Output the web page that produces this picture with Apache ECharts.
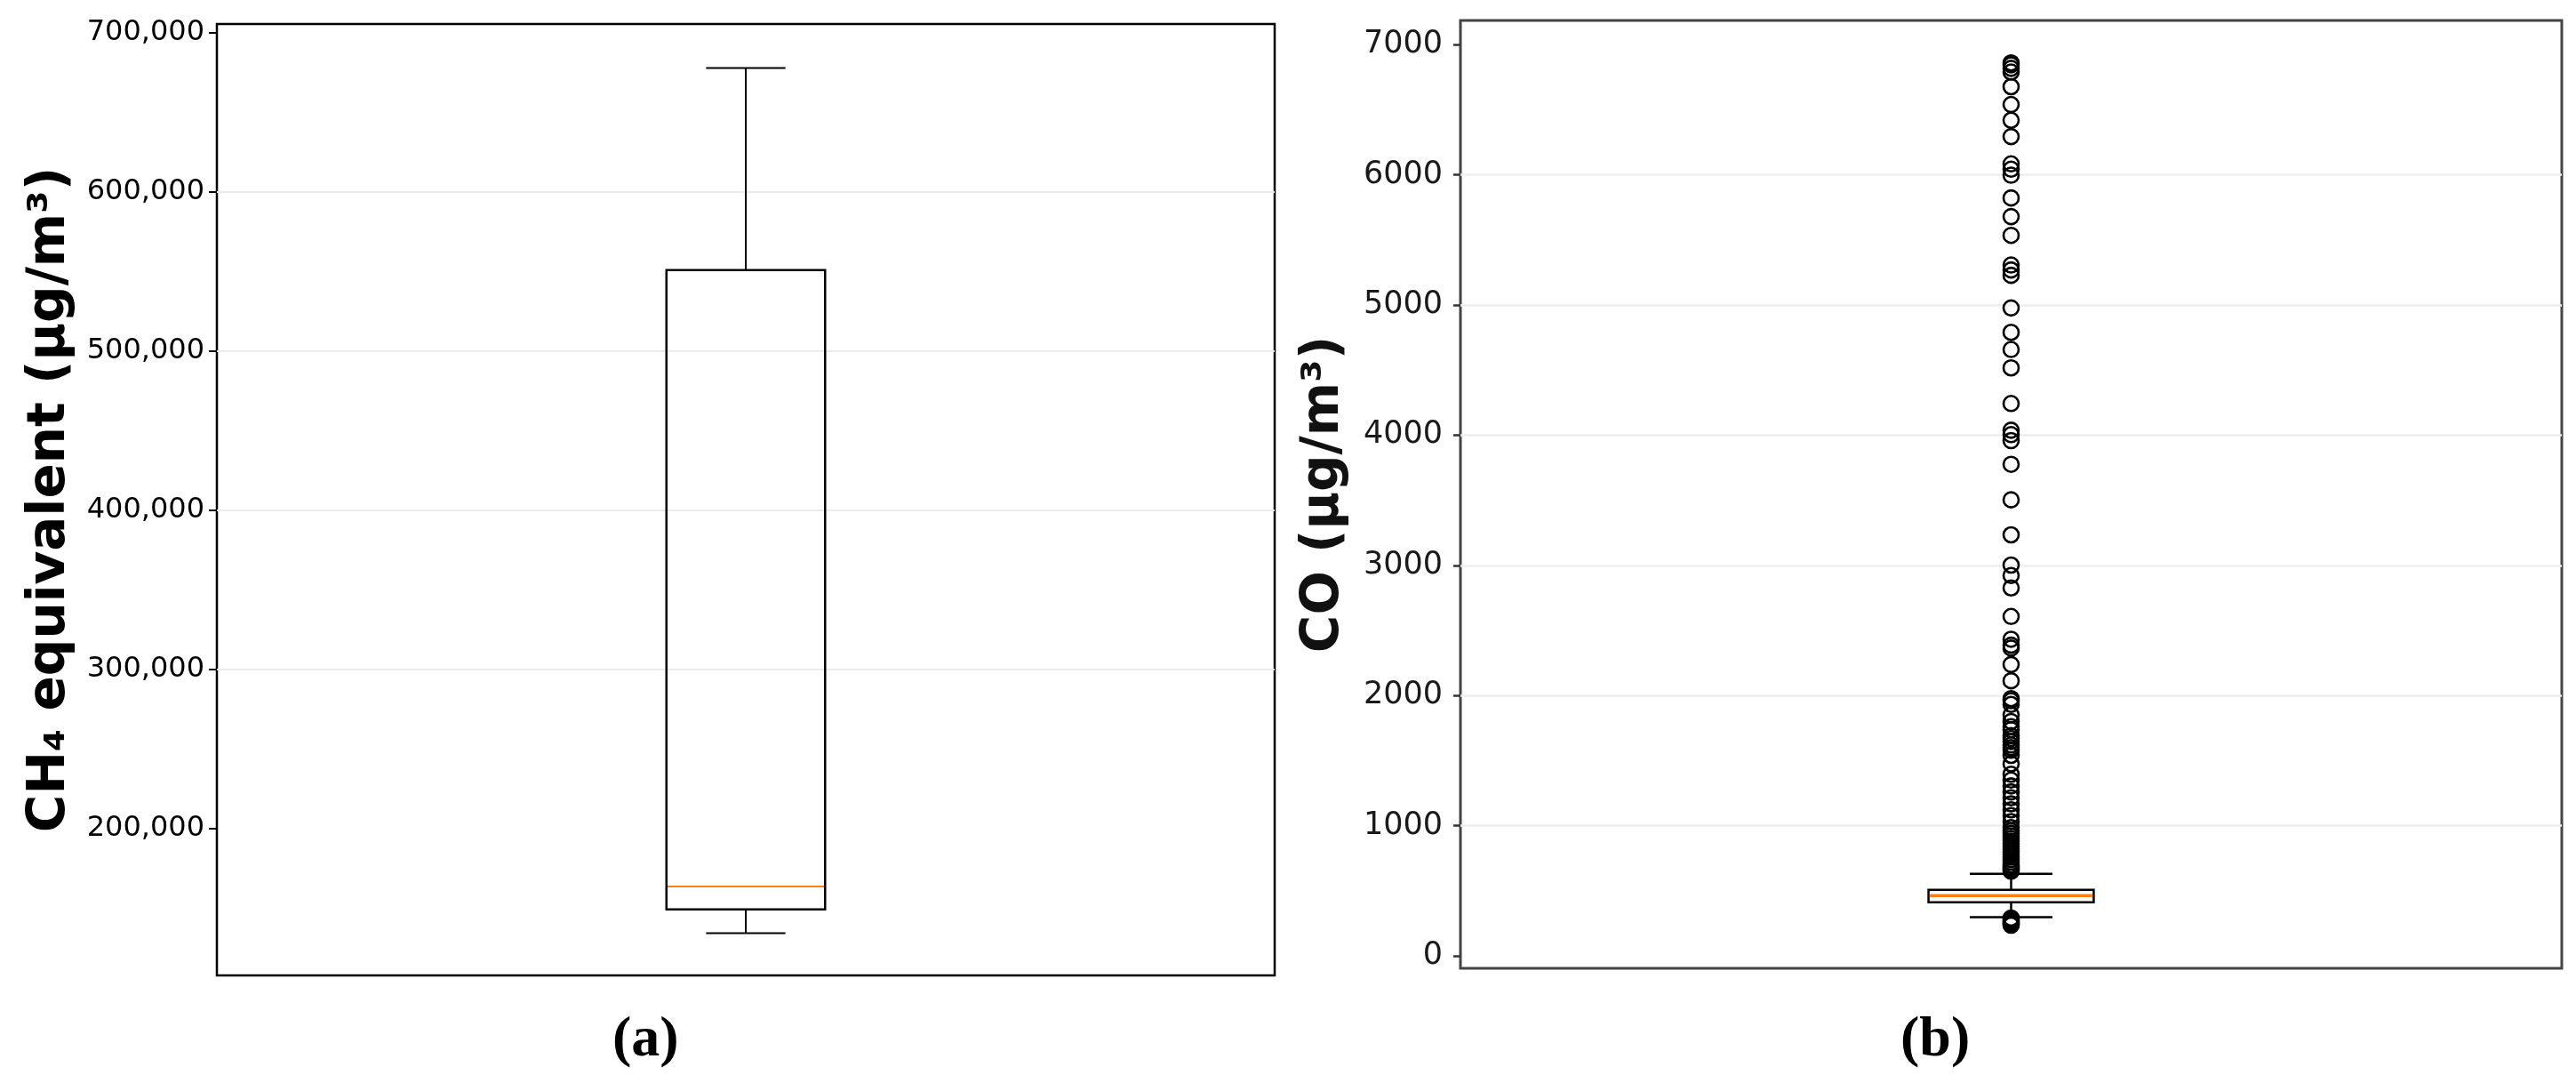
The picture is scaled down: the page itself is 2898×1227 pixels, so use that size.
<!DOCTYPE html>
<html>
<head>
<meta charset="utf-8">
<script src="https://cdn.jsdelivr.net/npm/echarts@6/dist/echarts.min.js"></script>
<style>
html,body{margin:0;padding:0;background:#fff;}
#chart{width:2898px;height:1227px;}
</style>
</head>
<body>
<div id="chart"></div>
<script>
// ---- data ----
const ch4Categories = ['CH4'];
// [lower whisker, Q1, median, Q3, upper whisker]
const ch4Box = [134400, 149300, 163700, 551000, 678000];
const ch4Ticks = [200000, 300000, 400000, 500000, 600000, 700000];
const ch4Range = [107800, 705600];

const coCategories = ['CO'];
const coBox = [297, 411, 462, 507, 630];
const coOutliersHigh = [650, 660, 670, 680, 690, 700, 720, 740, 760, 780, 800, 820, 840, 860, 880, 900, 920, 940, 960, 985,
  1031, 1077, 1122, 1168, 1214, 1259, 1305, 1350, 1395, 1475, 1540, 1580, 1600, 1620, 1646, 1670, 1691, 1737, 1760, 1800,
  1851, 1931, 1960, 1976, 2113, 2238, 2364, 2386, 2432, 2607, 2826, 2922, 3002, 3234, 3503, 3776, 3958, 4004, 4038, 4243,
  4517, 4658, 4790, 4977, 5228, 5269, 5307, 5535, 5679, 5822, 5997, 6043, 6084, 6294, 6419, 6540, 6677, 6790, 6818, 6845, 6860];
const coOutliersLow = [290, 282, 274, 266, 258, 250, 242, 235];
const coTicks = [0, 1000, 2000, 3000, 4000, 5000, 6000, 7000];
const coRange = [-96, 7186];

const panelLabels = ['(a)', '(b)'];
const yTitles = ['CH\u2084 equivalent (\u00b5g/m\u00b3)', 'CO (\u00b5g/m\u00b3)'];

// ---- rendering ----
function makeBoxRenderer(cfg) {
  return function (params, api) {
    const x = api.value(0);
    const lo = api.coord([x, api.value(1)]);
    const q1 = api.coord([x, api.value(2)]);
    const med = api.coord([x, api.value(3)]);
    const q3 = api.coord([x, api.value(4)]);
    const hi = api.coord([x, api.value(5)]);
    const band = api.size([1, 0])[0];
    const bw = band * 0.15;
    const cw = bw / 2;
    const cx = lo[0];
    const ls = { stroke: cfg.color, lineWidth: cfg.whiskerWidth, fill: null };
    return {
      type: 'group',
      children: [
        { type: 'line', shape: { x1: cx, y1: q3[1], x2: cx, y2: hi[1] }, style: ls },
        { type: 'line', shape: { x1: cx, y1: q1[1], x2: cx, y2: lo[1] }, style: ls },
        { type: 'line', shape: { x1: cx - cw / 2, y1: hi[1], x2: cx + cw / 2, y2: hi[1] }, style: ls },
        { type: 'line', shape: { x1: cx - cw / 2, y1: lo[1], x2: cx + cw / 2, y2: lo[1] }, style: ls },
        { type: 'rect', shape: { x: cx - bw / 2, y: q3[1], width: bw, height: q1[1] - q3[1] },
          style: { stroke: cfg.color, lineWidth: cfg.boxWidth, fill: 'rgba(0,0,0,0)' } },
        { type: 'line', shape: { x1: cx - bw / 2 + cfg.boxWidth / 2, y1: med[1], x2: cx + bw / 2 - cfg.boxWidth / 2, y2: med[1] },
          style: { stroke: '#ff7f0e', lineWidth: cfg.medianWidth } }
      ]
    };
  };
}

const chart = echarts.init(document.getElementById('chart'), null, { renderer: 'canvas' });

const tickFont = '"DejaVu Sans", sans-serif';

chart.setOption({
  backgroundColor: '#ffffff',
  animation: false,
  grid: [
    { left: 244, top: 27, width: 1190, height: 1070, show: true, borderColor: '#000', borderWidth: 2.5,
      backgroundColor: 'rgba(0,0,0,0)', containLabel: false, outerBoundsMode: 'none' },
    { left: 1643, top: 23, width: 1239, height: 1066, show: true, borderColor: '#444', borderWidth: 3,
      backgroundColor: 'rgba(0,0,0,0)', containLabel: false, outerBoundsMode: 'none' }
  ],
  xAxis: [
    { type: 'category', gridIndex: 0, data: ch4Categories, boundaryGap: true,
      axisLine: { show: false }, axisTick: { show: false }, axisLabel: { show: false }, splitLine: { show: false } },
    { type: 'category', gridIndex: 1, data: coCategories, boundaryGap: true,
      axisLine: { show: false }, axisTick: { show: false }, axisLabel: { show: false }, splitLine: { show: false } }
  ],
  yAxis: [
    { type: 'value', gridIndex: 0, min: ch4Range[0], max: ch4Range[1],
      minInterval: 100000, maxInterval: 100000,
      name: yTitles[0], nameLocation: 'middle', nameRotate: 90, nameGap: 158,
      nameTextStyle: { fontFamily: tickFont, fontWeight: 'bold', fontSize: 58, color: '#000' },
      axisLine: { show: false },
      axisTick: { show: true, length: 9, customValues: ch4Ticks, lineStyle: { color: '#000', width: 2 } },
      axisLabel: { show: true, customValues: ch4Ticks, margin: 14, fontFamily: tickFont, fontSize: 32, color: '#000',
        formatter: function (v) { return Number(v).toLocaleString('en-US'); } },
      splitLine: { show: true, showMinLine: false, showMaxLine: false, lineStyle: { color: '#ebebeb', width: 2 } }
    },
    { type: 'value', gridIndex: 1, min: coRange[0], max: coRange[1],
      minInterval: 1000, maxInterval: 1000,
      name: yTitles[1], nameLocation: 'middle', nameRotate: 90, nameGap: 124,
      nameTextStyle: { fontFamily: tickFont, fontWeight: 'bold', fontSize: 58, color: '#111' },
      axisLine: { show: false },
      axisTick: { show: true, length: 8, customValues: coTicks, lineStyle: { color: '#333', width: 2.5 } },
      axisLabel: { show: true, customValues: coTicks, margin: 20, fontFamily: tickFont, fontSize: 35, color: '#1a1a1a',
        formatter: function (v) { return String(v); } },
      splitLine: { show: true, showMinLine: false, showMaxLine: false, lineStyle: { color: '#eeeeee', width: 2.5 } }
    }
  ],
  graphic: [
    { type: 'text', left: 726 - 37, top: 1138, style: { text: panelLabels[0], font: 'bold 64px "Liberation Serif", "Times New Roman", serif', fill: '#000' } },
    { type: 'text', left: 2175 - 37, top: 1138, style: { text: panelLabels[1], font: 'bold 64px "Liberation Serif", "Times New Roman", serif', fill: '#000' } }
  ],
  series: [
    { type: 'custom', xAxisIndex: 0, yAxisIndex: 0, clip: false,
      renderItem: makeBoxRenderer({ color: '#000', whiskerWidth: 2, boxWidth: 2.5, medianWidth: 2 }),
      encode: { x: 0, y: [1, 2, 3, 4, 5] },
      data: [[0].concat(ch4Box)] },
    { type: 'scatter', xAxisIndex: 1, yAxisIndex: 1, symbol: 'circle', symbolSize: 17,
      itemStyle: { color: 'rgba(0,0,0,0)', borderColor: '#000', borderWidth: 2.6, opacity: 1 },
      data: coOutliersHigh.concat(coOutliersLow).map(function (v) { return [0, v]; }) },
    { type: 'custom', xAxisIndex: 1, yAxisIndex: 1, clip: false, z: 3,
      renderItem: makeBoxRenderer({ color: '#000', whiskerWidth: 2.5, boxWidth: 2.5, medianWidth: 3.5 }),
      encode: { x: 0, y: [1, 2, 3, 4, 5] },
      data: [[0].concat(coBox)] }
  ]
});
</script>
</body>
</html>
